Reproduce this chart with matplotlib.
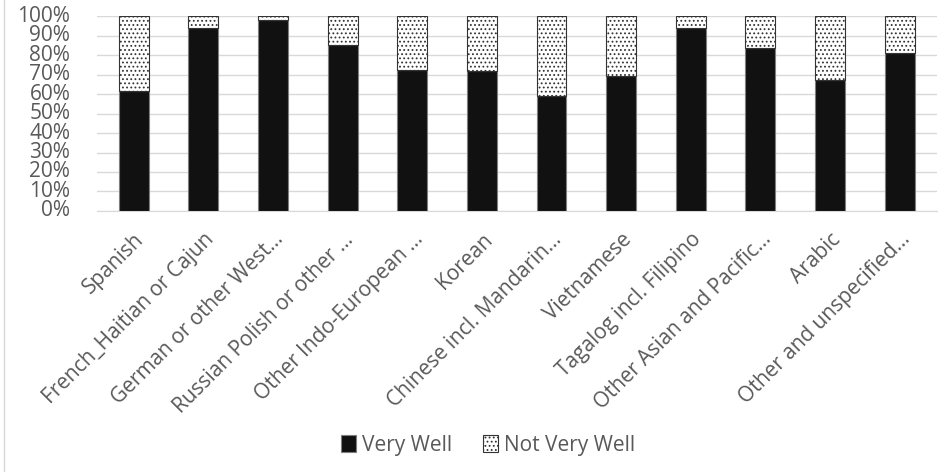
import matplotlib
matplotlib.use("Agg")
import matplotlib.pyplot as plt
import numpy as np
from matplotlib.ticker import PercentFormatter

plt.rcParams['font.family'] = ['Open Sans', 'DejaVu Sans']
plt.rcParams['hatch.linewidth'] = 0.8

categories = ["Spanish", "French_Haitian or Cajun", "German or other West...",
              "Russian Polish or other ...", "Other Indo-European ...", "Korean",
              "Chinese incl. Mandarin...", "Vietnamese", "Tagalog incl. Filipino",
              "Other Asian and Pacific...", "Arabic", "Other and unspecified..."]
very_well = [61.4, 93.7, 98.0, 84.9, 72.4, 71.6, 59.2, 69.4, 94.0, 83.8, 67.3, 81.0]
not_very_well = [100 - v for v in very_well]
yticks = list(range(0, 101, 10))

FS = 15
fig = plt.figure(figsize=(9.48, 4.72), dpi=100)
ax = fig.add_axes([0.102, 0.553, 0.886, 0.413])

x = np.arange(len(categories))
w = 0.43
ax.bar(x, very_well, w, color='#111111', edgecolor='#7f7f7f', linewidth=0.8,
       label='Very Well', zorder=3)
ax.bar(x, not_very_well, w, bottom=very_well, color='white', edgecolor='#333333',
       hatch='....', linewidth=0.8, label='Not Very Well', zorder=3)

ax.set_ylim(0, 100)
ax.set_xlim(-0.53, len(categories) - 0.47)
ax.set_yticks(yticks)
ax.yaxis.set_major_formatter(PercentFormatter(decimals=0))
ax.grid(axis='y', color='#d9d9d9', linewidth=1, zorder=0)
for s in ['top', 'right', 'left']:
    ax.spines[s].set_visible(False)
ax.spines['bottom'].set_color('#d9d9d9')
ax.tick_params(axis='both', length=0, colors='#595959', labelsize=FS)
ax.tick_params(axis='y', pad=19)
ax.tick_params(axis='x', pad=13)
ax.set_xticks(x)
ax.set_xticklabels(categories, rotation=45, ha='right', rotation_mode='anchor')
for lbl in ax.get_yticklabels():
    lbl.set_verticalalignment('center')

leg = fig.legend(loc='center', bbox_to_anchor=(0.515, 0.057), ncol=2, frameon=False,
                 fontsize=FS, handlelength=0.7, handleheight=0.85, handletextpad=0.3,
                 columnspacing=1.5)
for t in leg.get_texts():
    t.set_color('#595959')

fig.patches.append(plt.Rectangle((0.004, -0.01), 1.2, 1.2, transform=fig.transFigure,
                                 fill=False, edgecolor='#d9d9d9', linewidth=1))

fig.savefig('out.png', dpi=100)
